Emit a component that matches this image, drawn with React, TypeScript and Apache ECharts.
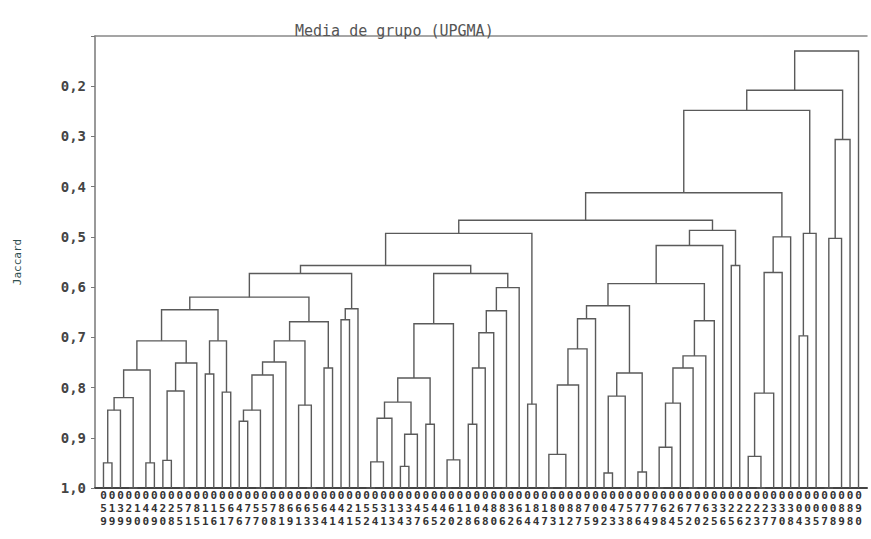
import React, { useEffect, useRef } from "react";
import * as echarts from "echarts";

// Leaf labels (left to right), three digits stacked vertically
const leafLabels: string[] = [
  "059", "019", "039", "029", "010", "040", "049", "020", "028", "055",
  "071", "085", "011", "016", "051", "067", "046", "077", "057", "050",
  "078", "081", "069", "061", "063", "053", "064", "041", "044", "021",
  "015", "052", "054", "031", "013", "034", "033", "047", "056", "045",
  "042", "060", "012", "018", "006", "048", "080", "086", "032", "066",
  "014", "084", "017", "083", "001", "082", "087", "075", "009", "002",
  "043", "073", "058", "076", "074", "079", "068", "024", "065", "072",
  "070", "062", "035", "036", "025", "026", "022", "023", "027", "037",
  "030", "038", "004", "003", "005", "007", "008", "089", "088", "090",
];

// UPGMA merges: [cluster name, Jaccard similarity, left, right]
// left/right: leaf index (number) or earlier cluster name (string)
type Ref = number | string;
const merges: [string, number, Ref, Ref][] = [
  ["p3", 1.0, 3, 4],
  ["a1", 0.95, 0, 1],
  ["a2", 0.845, "a1", 2],
  ["a3", 0.82, "a2", "p3"],
  ["a4", 0.95, 5, 6],
  ["a5", 0.765, "a3", "a4"],
  ["a6", 0.945, 7, 8],
  ["p9", 1.0, 9, 10],
  ["a7", 0.807, "a6", "p9"],
  ["a8", 0.751, "a7", 11],
  ["a9", 0.707, "a5", "a8"],
  ["a10", 0.773, 12, 13],
  ["a11", 0.809, 14, 15],
  ["a12", 0.707, "a10", "a11"],
  ["a13", 0.645, "a9", "a12"],
  ["b1", 0.867, 16, 17],
  ["p18", 1.0, 18, 19],
  ["b2", 0.845, "b1", "p18"],
  ["b3", 0.775, "b2", 20],
  ["p21", 1.0, 21, 22],
  ["b4", 0.749, "b3", "p21"],
  ["p24", 1.0, 24, 25],
  ["b5", 0.835, 23, "p24"],
  ["b6", 0.707, "b4", "b5"],
  ["b7", 0.761, 26, 27],
  ["b8", 0.669, "b6", "b7"],
  ["b9", 0.62, "a13", "b8"],
  ["c1", 0.665, 28, 29],
  ["c2", 0.643, "c1", 30],
  ["c3", 0.573, "b9", "c2"],
  ["p31", 1.0, 31, 32],
  ["e1", 0.948, "p31", 33],
  ["e2", 0.861, "e1", 34],
  ["e3", 0.957, 35, 36],
  ["e4", 0.893, "e3", 37],
  ["e5", 0.829, "e2", "e4"],
  ["e6", 0.873, 38, 39],
  ["e7", 0.781, "e5", "e6"],
  ["p40", 1.0, 40, 41],
  ["e8", 0.944, "p40", 42],
  ["e9", 0.673, "e7", "e8"],
  ["g1", 0.873, 43, 44],
  ["g2", 0.761, "g1", 45],
  ["g3", 0.691, "g2", 46],
  ["p47", 1.0, 47, 48],
  ["g4", 0.647, "g3", "p47"],
  ["g5", 0.601, "g4", 49],
  ["g6", 0.573, "e9", "g5"],
  ["d1", 0.557, "c3", "g6"],
  ["f1", 0.833, 50, 51],
  ["f2", 0.493, "d1", "f1"],
  ["p52", 1.0, 52, 53],
  ["p54", 1.0, 54, 55],
  ["t1", 0.933, "p52", "p54"],
  ["t2", 0.795, "t1", 56],
  ["t3", 0.723, "t2", 57],
  ["t4", 0.663, "t3", 58],
  ["m1", 0.97, 59, 60],
  ["p61", 1.0, 61, 62],
  ["m2", 0.817, "m1", "p61"],
  ["m3", 0.968, 63, 64],
  ["m4", 0.771, "m2", "m3"],
  ["m5", 0.637, "t4", "m4"],
  ["p65", 1.0, 65, 66],
  ["k1", 0.919, "p65", 67],
  ["k2", 0.831, "k1", 68],
  ["p69", 1.0, 69, 70],
  ["k3", 0.761, "k2", "p69"],
  ["k4", 0.737, "k3", 71],
  ["k5", 0.667, "k4", 72],
  ["k6", 0.593, "m5", "k5"],
  ["k7", 0.517, "k6", 73],
  ["k8", 0.557, 74, 75],
  ["k9", 0.487, "k7", "k8"],
  ["h1", 0.467, "f2", "k9"],
  ["p77", 1.0, 77, 78],
  ["q1", 0.937, 76, "p77"],
  ["q2", 0.811, "q1", 79],
  ["q3", 0.571, "q2", 80],
  ["q4", 0.5, "q3", 81],
  ["q5", 0.412, "h1", "q4"],
  ["n1", 0.697, 82, 83],
  ["n2", 0.493, "n1", 84],
  ["r1", 0.248, "q5", "n2"],
  ["p85", 1.0, 85, 86],
  ["s1", 0.503, "p85", 87],
  ["s2", 0.306, "s1", 88],
  ["s3", 0.208, "r1", "s2"],
  ["root", 0.13, "s3", 89],
];

const yMin = 0.1;
const yMax = 1.0;
const yStep = 0.1;
const titleText = "Media de grupo (UPGMA)";
const yName = "Jaccard";

function buildSegments(): number[][] {
  const pos: Record<string, { x: number; h: number }> = {};
  const get = (r: Ref) => (typeof r === "number" ? { x: r, h: yMax } : pos[r]);
  const segs: number[][] = [];
  for (const [name, h, l, r] of merges) {
    const L = get(l);
    const R = get(r);
    segs.push([L.x, L.h, R.x, R.h, h]);
    pos[name] = { x: (L.x + R.x) / 2, h };
  }
  return segs;
}

export default function App() {
  const ref = useRef<HTMLDivElement>(null);
  useEffect(() => {
    document.body.style.margin = "0";
    if (!ref.current) return;
    const chart = echarts.init(ref.current, undefined, { renderer: "svg" });
    const segs = buildSegments();
    const n = leafLabels.length;
    const mono = "DejaVu Sans Mono";
    chart.setOption({
      animation: false,
      backgroundColor: "#ffffff",
      title: {
        text: titleText,
        left: 290,
        top: 18,
        textStyle: { fontFamily: mono, fontSize: 15, fontWeight: "normal", color: "#555" },
      },
      grid: { left: 95, right: 4, top: 36, bottom: 51, containLabel: false },
      xAxis: [
        {
          type: "value",
          min: -1,
          max: n,
          interval: 1,
          position: "bottom",
          axisLine: { show: true, onZero: false, lineStyle: { color: "#444", width: 2 } },
          axisTick: { show: false },
          splitLine: { show: false },
          axisLabel: {
            margin: 1,
            fontFamily: mono,
            fontWeight: "bold",
            fontSize: 11,
            lineHeight: 13,
            color: "#333",
            formatter: (v: number) => {
              const i = Math.round(v);
              if (Math.abs(v - i) > 1e-6 || i < 0 || i >= n) return "";
              return leafLabels[i].split("").join("\n");
            },
          },
        },
        {
          type: "value",
          min: -1,
          max: n,
          position: "top",
          axisLine: { show: true, onZero: false, lineStyle: { color: "#888", width: 1.5 } },
          axisTick: { show: false },
          axisLabel: { show: false },
          splitLine: { show: false },
        },
      ],
      yAxis: {
        type: "value",
        inverse: true,
        min: yMin,
        max: yMax,
        interval: yStep,
        name: yName,
        nameLocation: "middle",
        nameRotate: 90,
        nameGap: 72,
        nameTextStyle: { fontFamily: mono, fontSize: 11, color: "#2f4f4f" },
        axisLine: { show: true, onZero: false, lineStyle: { color: "#777", width: 1.5 } },
        axisTick: { show: true, length: 4, lineStyle: { color: "#777" } },
        splitLine: { show: false },
        axisLabel: {
          margin: 9,
          fontFamily: mono,
          fontWeight: "bold",
          fontSize: 14,
          color: "#444",
          formatter: (v: number) => (v < yMin + yStep / 2 ? "" : v.toFixed(1).replace(".", ",")),
        },
      },
      series: [
        {
          type: "custom",
          xAxisIndex: 0,
          yAxisIndex: 0,
          encode: { x: [0, 2], y: [1, 3, 4] },
          data: segs,
          renderItem: (_params: any, api: any) => {
            const p1 = api.coord([api.value(0), api.value(1)]);
            const p2 = api.coord([api.value(0), api.value(4)]);
            const p3 = api.coord([api.value(2), api.value(4)]);
            const p4 = api.coord([api.value(2), api.value(3)]);
            return {
              type: "polyline",
              shape: { points: [p1, p2, p3, p4] },
              style: { stroke: "#5a5a5a", lineWidth: 1.4, fill: "none" },
            };
          },
        },
      ],
    });
    return () => chart.dispose();
  }, []);
  return <div ref={ref} style={{ width: 871, height: 539 }} />;
}
